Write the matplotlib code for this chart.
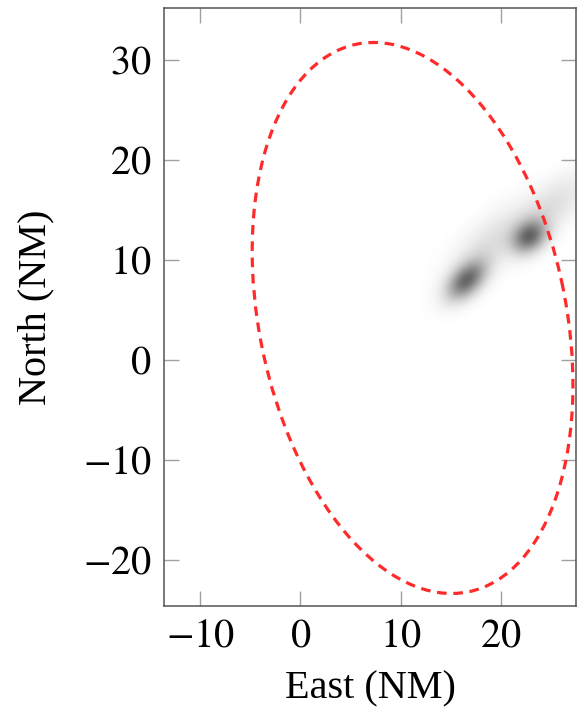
import numpy as np
import matplotlib
matplotlib.use("Agg")
import matplotlib.pyplot as plt
from matplotlib.patches import Ellipse

plt.rcParams['font.family'] = ['Liberation Serif', 'DejaVu Serif']
plt.rcParams['mathtext.fontset'] = 'stix'

# ellipse (center + covariance-like shape matrix), NM
ell_center = [11.2, 4.2]
ell_shape = [[256.0, -107.0], [-107.0, 759.0]]

# density blobs: mean east, mean north, sigma major, sigma minor, angle deg, weight
blob_east = [16.6, 18.8, 22.9, 25.2]
blob_north = [7.9, 11.3, 12.3, 15.4]
blob_smaj = [1.6, 3.4, 1.3, 3.0]
blob_smin = [0.95, 1.5, 1.0, 1.4]
blob_ang = [45, 45, 40, 40]
blob_w = [1.0, 0.22, 1.0, 0.22]

xticks = [-10, 0, 10, 20]
yticks = [-20, -10, 0, 10, 20, 30]
xlim = (-13.6, 27.5)
ylim = (-24.6, 35.2)

fig = plt.figure(figsize=(5.77, 7.12), dpi=100)
ax = fig.add_axes([0.2842, 0.1489, 0.714, 0.8399])

# density field
gx = np.linspace(xlim[0], xlim[1], 400)
gy = np.linspace(ylim[0], ylim[1], 560)
X, Y = np.meshgrid(gx, gy)
Z = np.zeros_like(X)
for mx, my, a, b, ang, w in zip(blob_east, blob_north, blob_smaj, blob_smin, blob_ang, blob_w):
    t = np.deg2rad(ang)
    dx, dy = X - mx, Y - my
    u = dx * np.cos(t) + dy * np.sin(t)
    v = -dx * np.sin(t) + dy * np.cos(t)
    Z += w * np.exp(-0.5 * ((u / a) ** 2 + (v / b) ** 2))
ax.imshow(Z, extent=[xlim[0], xlim[1], ylim[0], ylim[1]], origin='lower',
          cmap='gray_r', vmin=0, vmax=Z.max() / 0.62, interpolation='bilinear',
          aspect='auto', zorder=1)

# ellipse
vals, vecs = np.linalg.eigh(np.array(ell_shape))
angle = np.degrees(np.arctan2(vecs[1, 1], vecs[0, 1]))
ell = Ellipse(ell_center, 2 * np.sqrt(vals[1]), 2 * np.sqrt(vals[0]), angle=angle,
              fill=False, edgecolor='#ff2a2a', linewidth=2.3, linestyle=(0, (3.0, 2.1)),
              zorder=3)
ax.add_patch(ell)

ax.set_xlim(*xlim)
ax.set_ylim(*ylim)
ax.set_xticks(xticks)
ax.set_yticks(yticks)
ax.set_xticklabels([f"${t}$" if t >= 0 else f"$-{abs(t)}$" for t in xticks])
ax.set_yticklabels([f"${t}$" if t >= 0 else f"$-{abs(t)}$" for t in yticks])
ax.tick_params(direction='in', length=11, width=1.0, color='#a0a0a0',
               top=True, right=True, labelsize=29, pad=9)
for s in ax.spines.values():
    s.set_color('#555555')
    s.set_linewidth(1.1)

ax.set_xlabel("East (NM)", fontsize=29, labelpad=11)
ax.set_ylabel("North (NM)", fontsize=29, labelpad=20)

fig.savefig("out.png", dpi=100)
